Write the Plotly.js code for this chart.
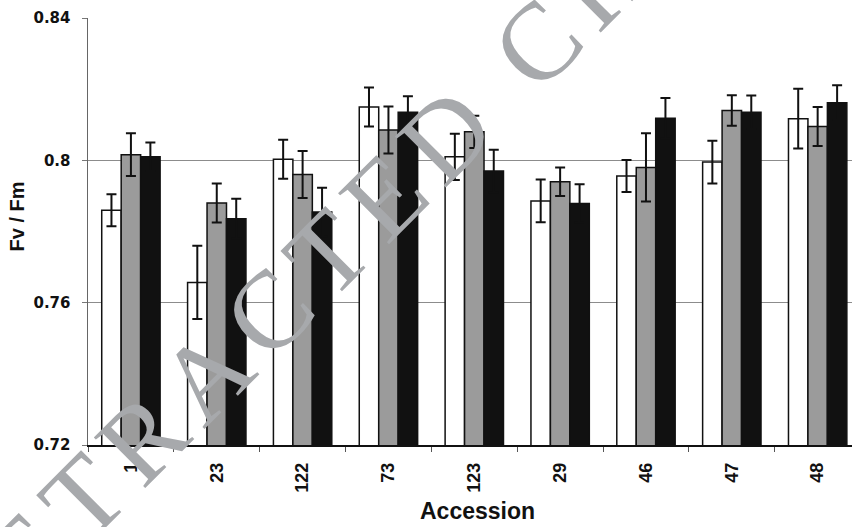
<!DOCTYPE html>
<html>
<head>
<meta charset="utf-8">
<script src="https://cdn.plot.ly/plotly-3.0.1.min.js"></script>
<style>
  html, body { margin: 0; padding: 0; background: #ffffff; }
  #wrap { position: relative; width: 852px; height: 527px; overflow: hidden; }
  #chart { width: 852px; height: 527px; }
  /* diagonal stamp laid over the chart */
  #stamp {
    position: absolute;
    left: 435.5px;
    top: 144.5px;
    transform: translate(-50%, -50%) rotate(-45deg);
    white-space: nowrap;
    font-family: 'Liberation Serif', 'Times New Roman', serif;
    font-size: 110px;
    line-height: 1;
    letter-spacing: 13px;
    color: #a7a9ac;
    pointer-events: none;
  }
</style>
</head>
<body>
<div id="wrap">
  <div id="chart"></div>
  <div id="stamp">RETRACTED CHAPTER</div>
</div>
<script>
// Accessions along the x axis
const accessions = ["1", "23", "122", "73", "123", "29", "46", "47", "48"];

// Fv/Fm means and their error bars for the three treatments
const whiteVals = [0.786, 0.7657, 0.8003, 0.815, 0.801, 0.7886, 0.7956, 0.7995, 0.8117];
const whiteErr  = [0.0045, 0.0103, 0.0055, 0.0055, 0.0065, 0.006, 0.0045, 0.006, 0.0084];
const grayVals  = [0.8016, 0.788, 0.796, 0.8085, 0.808, 0.794, 0.798, 0.814, 0.8095];
const grayErr   = [0.006, 0.0055, 0.0066, 0.0066, 0.0045, 0.004, 0.0096, 0.0043, 0.0055];
const blackVals = [0.801, 0.7836, 0.7855, 0.8135, 0.797, 0.7879, 0.8118, 0.8135, 0.8162];
const blackErr  = [0.004, 0.0056, 0.0068, 0.0045, 0.006, 0.0054, 0.0057, 0.0047, 0.0049];

const yTicks = [0.72, 0.76, 0.8, 0.84];

function barTrace(vals, errs, fill) {
  return {
    type: 'bar',
    x: accessions,
    y: vals,
    marker: { color: fill, line: { color: '#111111', width: 1.5 } },
    error_y: { type: 'data', array: errs, visible: true, color: '#111111', thickness: 2, width: 5 },
    hoverinfo: 'skip'
  };
}

const data = [
  barTrace(whiteVals, whiteErr, '#ffffff'),
  barTrace(grayVals, grayErr, '#9b9b9b'),
  barTrace(blackVals, blackErr, '#111111')
];

const layout = {
  width: 852,
  height: 527,
  margin: { l: 88, r: 0, t: 18, b: 82 },
  paper_bgcolor: '#ffffff',
  plot_bgcolor: '#ffffff',
  showlegend: false,
  barmode: 'group',
  bargap: 0.32,
  bargroupgap: 0,
  xaxis: {
    type: 'category',
    range: [-0.5, 8.4],
    showline: true,
    linecolor: '#111111',
    linewidth: 1.5,
    showgrid: false,
    zeroline: false,
    ticks: 'outside',
    tickson: 'boundaries',
    ticklen: 5,
    tickwidth: 1,
    tickcolor: '#555555',
    tickangle: -90,
    ticklabelstandoff: 9,
    tickfont: { family: 'Liberation Sans, Arial, sans-serif', size: 18, color: '#111111', weight: 'bold' }
  },
  yaxis: {
    range: [0.72, 0.84],
    tickvals: yTicks,
    ticktext: yTicks.map(v => String(v)),
    showline: true,
    linecolor: '#666666',
    linewidth: 1.5,
    showgrid: true,
    gridcolor: '#8c8c8c',
    gridwidth: 1,
    zeroline: false,
    ticks: 'outside',
    ticklen: 5,
    tickcolor: '#777777',
    ticklabelstandoff: 8,
    tickfont: { family: 'DejaVu Sans, sans-serif', size: 15, color: '#111111', weight: 'bold' }
  },
  annotations: [
    {
      text: 'Fv / Fm',
      xref: 'paper', yref: 'paper',
      x: (17 - 88) / 764, y: (445 - 216.5) / 427,
      xanchor: 'center', yanchor: 'middle',
      textangle: -90,
      showarrow: false,
      font: { family: 'Liberation Sans, Arial, sans-serif', size: 20, color: '#111111', weight: 'bold' }
    },
    {
      text: 'Accession',
      xref: 'paper', yref: 'paper',
      x: (477 - 88) / 764, y: -(511 - 445) / 427,
      xanchor: 'center', yanchor: 'middle',
      showarrow: false,
      font: { family: 'Liberation Sans, Arial, sans-serif', size: 23, color: '#111111', weight: 'bold' }
    }
  ]
};

Plotly.newPlot('chart', data, layout, { staticPlot: true, displayModeBar: false });
</script>
</body>
</html>
